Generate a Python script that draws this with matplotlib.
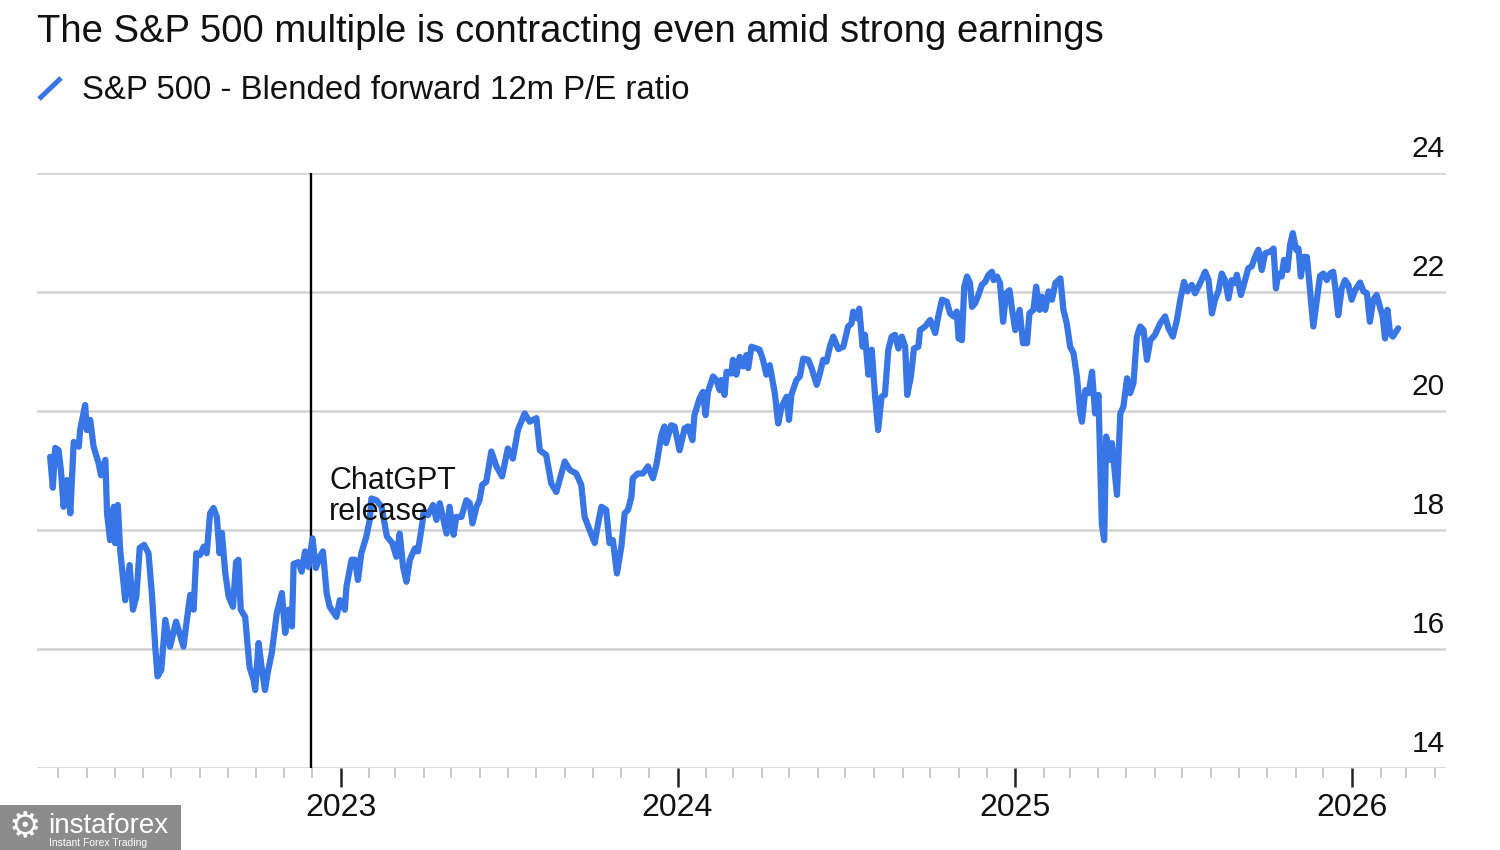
import matplotlib
matplotlib.use("Agg")
import matplotlib.pyplot as plt
import matplotlib.dates as mdates
import matplotlib.transforms as mtrans
from matplotlib.lines import Line2D
from matplotlib.patches import Rectangle
from datetime import datetime

plt.rcParams['font.family'] = ['Liberation Sans', 'DejaVu Sans']

# ---------------- data ----------------
title = "The S&P 500 multiple is contracting even amid strong earnings"
series_name = "S&P 500 - Blended forward 12m P/E ratio"
annotation_text = "ChatGPT\nrelease"
annotation_date = datetime(2022, 11, 30)
y_ticks = [14, 16, 18, 20, 22, 24]

# decimal years
t = [
    2022.137, 2022.145, 2022.152, 2022.162, 2022.169, 2022.177, 2022.187, 2022.197, 2022.207, 2022.222,
    2022.226, 2022.241, 2022.246, 2022.256, 2022.266, 2022.281, 2022.288, 2022.301, 2022.306, 2022.315,
    2022.326, 2022.330, 2022.338, 2022.345, 2022.360, 2022.373, 2022.383, 2022.393, 2022.403, 2022.416,
    2022.429, 2022.439, 2022.449, 2022.456, 2022.467, 2022.479, 2022.493, 2022.511, 2022.521, 2022.533,
    2022.543, 2022.553, 2022.563, 2022.571, 2022.582, 2022.593, 2022.602, 2022.612, 2022.622, 2022.632,
    2022.640, 2022.647, 2022.657, 2022.667, 2022.680, 2022.689, 2022.696, 2022.703, 2022.716, 2022.729,
    2022.741, 2022.746, 2022.756, 2022.766, 2022.775, 2022.783, 2022.795, 2022.810, 2022.825, 2022.835,
    2022.845, 2022.855, 2022.860, 2022.874, 2022.884, 2022.894, 2022.904, 2022.916, 2022.926, 2022.938,
    2022.947, 2022.958, 2022.967, 2022.987, 2022.997, 2023.012, 2023.017, 2023.032, 2023.042, 2023.051,
    2023.061, 2023.076, 2023.086, 2023.091, 2023.106, 2023.121, 2023.137, 2023.153, 2023.165, 2023.175,
    2023.185, 2023.195, 2023.205, 2023.220, 2023.229, 2023.242, 2023.246, 2023.259, 2023.274, 2023.284,
    2023.294, 2023.314, 2023.323, 2023.335, 2023.343, 2023.358, 2023.373, 2023.383, 2023.391, 2023.403,
    2023.412, 2023.420, 2023.432, 2023.447, 2023.462, 2023.479, 2023.496, 2023.511, 2023.526, 2023.546,
    2023.561, 2023.581, 2023.591, 2023.610, 2023.625, 2023.640, 2023.665, 2023.680, 2023.699, 2023.714,
    2023.724, 2023.739, 2023.754, 2023.764, 2023.774, 2023.788, 2023.798, 2023.808, 2023.820, 2023.833,
    2023.843, 2023.853, 2023.863, 2023.867, 2023.882, 2023.897, 2023.912, 2023.927, 2023.937, 2023.952,
    2023.961, 2023.966, 2023.981, 2023.991, 2024.006, 2024.021, 2024.031, 2024.044, 2024.050, 2024.065,
    2024.075, 2024.083, 2024.090, 2024.105, 2024.115, 2024.125, 2024.130, 2024.139, 2024.145, 2024.159,
    2024.164, 2024.174, 2024.184, 2024.194, 2024.204, 2024.209, 2024.219, 2024.234, 2024.243, 2024.253,
    2024.263, 2024.273, 2024.288, 2024.298, 2024.308, 2024.323, 2024.330, 2024.337, 2024.352, 2024.362,
    2024.372, 2024.387, 2024.397, 2024.412, 2024.421, 2024.431, 2024.441, 2024.451, 2024.461, 2024.476,
    2024.491, 2024.505, 2024.515, 2024.520, 2024.530, 2024.538, 2024.548, 2024.555, 2024.565, 2024.575,
    2024.585, 2024.594, 2024.604, 2024.614, 2024.624, 2024.634, 2024.644, 2024.654, 2024.664, 2024.674,
    2024.680, 2024.691, 2024.700, 2024.713, 2024.718, 2024.733, 2024.748, 2024.763, 2024.772, 2024.783,
    2024.797, 2024.807, 2024.817, 2024.827, 2024.832, 2024.842, 2024.849, 2024.857, 2024.866, 2024.872,
    2024.881, 2024.891, 2024.901, 2024.911, 2024.921, 2024.931, 2024.936, 2024.946, 2024.955, 2024.964,
    2024.973, 2024.983, 2024.990, 2025.000, 2025.013, 2025.023, 2025.035, 2025.042, 2025.054, 2025.062,
    2025.072, 2025.079, 2025.089, 2025.099, 2025.109, 2025.119, 2025.134, 2025.143, 2025.153, 2025.163,
    2025.173, 2025.183, 2025.193, 2025.198, 2025.208, 2025.218, 2025.228, 2025.237, 2025.247, 2025.257,
    2025.264, 2025.270, 2025.280, 2025.287, 2025.302, 2025.312, 2025.321, 2025.332, 2025.341, 2025.351,
    2025.361, 2025.371, 2025.381, 2025.391, 2025.401, 2025.415, 2025.430, 2025.445, 2025.455, 2025.468,
    2025.480, 2025.490, 2025.501, 2025.511, 2025.524, 2025.534, 2025.549, 2025.564, 2025.574, 2025.584,
    2025.593, 2025.603, 2025.613, 2025.623, 2025.633, 2025.643, 2025.653, 2025.658, 2025.670, 2025.680,
    2025.692, 2025.702, 2025.712, 2025.722, 2025.732, 2025.742, 2025.757, 2025.767, 2025.774, 2025.781,
    2025.791, 2025.798, 2025.808, 2025.816, 2025.824, 2025.834, 2025.841, 2025.848, 2025.856, 2025.866,
    2025.873, 2025.885, 2025.895, 2025.905, 2025.915, 2025.925, 2025.935, 2025.944, 2025.950, 2025.959,
    2025.969, 2025.979, 2025.989, 2025.999, 2026.009, 2026.024, 2026.034, 2026.044, 2026.053, 2026.063,
    2026.073, 2026.083, 2026.091, 2026.098, 2026.105, 2026.113, 2026.121, 2026.128, 2026.137,
]

pe = [
    19.23, 18.71, 19.38, 19.34, 19.01, 18.39, 18.84, 18.28, 19.48, 19.40,
    19.68, 20.10, 19.68, 19.85, 19.40, 19.12, 18.92, 19.18, 18.28, 17.83,
    18.39, 17.78, 18.42, 17.66, 16.82, 17.41, 16.66, 16.88, 17.70, 17.75,
    17.61, 16.94, 16.04, 15.54, 15.65, 16.49, 16.04, 16.46, 16.27, 16.04,
    16.49, 16.91, 16.66, 17.61, 17.58, 17.72, 17.61, 18.28, 18.37, 18.22,
    17.61, 17.95, 17.28, 16.88, 16.71, 17.46, 17.50, 16.66, 16.54, 15.70,
    15.48, 15.31, 16.10, 15.65, 15.31, 15.60, 15.93, 16.60, 16.94, 16.27,
    16.66, 16.38, 17.43, 17.46, 17.30, 17.64, 17.38, 17.86, 17.36, 17.55,
    17.64, 16.94, 16.71, 16.54, 16.82, 16.66, 17.05, 17.50, 17.50, 17.16,
    17.61, 17.89, 18.17, 18.53, 18.50, 18.39, 17.89, 17.78, 17.55, 17.94,
    17.38, 17.13, 17.50, 17.69, 17.64, 18.11, 18.31, 18.25, 18.42, 18.17,
    18.45, 17.94, 18.39, 17.92, 18.22, 18.22, 18.50, 18.45, 18.11, 18.39,
    18.50, 18.76, 18.81, 19.32, 19.07, 18.90, 19.37, 19.20, 19.68, 19.96,
    19.82, 19.88, 19.34, 19.26, 18.78, 18.64, 19.15, 19.01, 18.95, 18.76,
    18.22, 18.00, 17.78, 18.11, 18.39, 18.34, 17.78, 17.83, 17.27, 17.72,
    18.28, 18.34, 18.56, 18.87, 18.95, 18.95, 19.07, 18.87, 19.09, 19.60,
    19.74, 19.46, 19.76, 19.74, 19.34, 19.71, 19.74, 19.51, 19.93, 20.21,
    20.32, 19.93, 20.32, 20.58, 20.52, 20.35, 20.52, 20.27, 20.66, 20.63,
    20.86, 20.61, 20.91, 20.75, 20.94, 20.72, 21.08, 21.05, 21.03, 20.86,
    20.61, 20.77, 20.30, 19.79, 20.07, 20.24, 19.85, 20.27, 20.52, 20.58,
    20.88, 20.86, 20.72, 20.44, 20.62, 20.86, 20.83, 21.08, 21.25, 21.04,
    21.08, 21.42, 21.47, 21.67, 21.56, 21.72, 21.08, 21.28, 20.61, 21.03,
    20.24, 19.68, 20.24, 20.27, 21.03, 21.25, 21.28, 21.05, 21.25, 21.08,
    20.27, 20.58, 21.05, 21.08, 21.36, 21.42, 21.53, 21.31, 21.59, 21.87,
    21.84, 21.64, 21.59, 21.67, 21.22, 21.19, 22.09, 22.26, 22.15, 21.75,
    21.81, 21.95, 22.12, 22.17, 22.29, 22.34, 22.20, 22.26, 22.15, 21.50,
    21.98, 22.03, 21.73, 21.36, 21.70, 21.14, 21.14, 21.64, 21.70, 22.09,
    21.70, 21.92, 21.70, 22.01, 21.87, 22.15, 22.23, 21.70, 21.47, 21.08,
    20.97, 20.58, 19.96, 19.82, 20.35, 20.30, 20.66, 19.96, 20.27, 18.11,
    17.83, 19.57, 19.18, 19.46, 18.59, 19.96, 20.07, 20.55, 20.30, 20.47,
    21.25, 21.42, 21.36, 20.86, 21.19, 21.28, 21.47, 21.59, 21.39, 21.25,
    21.53, 21.87, 22.17, 22.01, 22.12, 21.98, 22.15, 22.34, 22.20, 21.64,
    21.87, 22.01, 22.31, 22.20, 21.89, 22.20, 22.15, 22.29, 21.95, 22.15,
    22.40, 22.43, 22.59, 22.71, 22.37, 22.65, 22.68, 22.73, 22.06, 22.31,
    22.26, 22.54, 22.37, 22.79, 22.99, 22.71, 22.73, 22.26, 22.59, 22.59,
    22.17, 21.42, 21.85, 22.27, 22.31, 22.20, 22.31, 22.34, 22.09, 21.61,
    22.05, 22.20, 22.12, 21.87, 22.03, 22.16, 22.01, 21.98, 21.50, 21.87,
    21.95, 21.75, 21.59, 21.22, 21.70, 21.31, 21.25, 21.31, 21.39,
]


def dec2dt(y):
    yr = int(y)
    start = datetime(yr, 1, 1)
    end = datetime(yr + 1, 1, 1)
    return start + (end - start) * (y - yr)


dates = [dec2dt(v) for v in t]

BLUE = "#3876E6"
GRID = "#d2d2d2"
W, H = 1500, 850

fig = plt.figure(figsize=(15, 8.5), dpi=100)
fig.patch.set_facecolor("white")

ax = fig.add_axes([37 / W, 1 - 768 / H, (1446 - 37) / W, (768 - 173) / H])
ax.set_facecolor("white")

ax.plot(dates, pe, color=BLUE, lw=4.5, solid_joinstyle="round", solid_capstyle="round", zorder=3)
ax.axvline(annotation_date, color="black", lw=1.7, zorder=2)

ax.set_ylim(14, 24)
ax.set_xlim(dec2dt(2022.098), dec2dt(2026.279))

ax.set_yticks(y_ticks)
ax.yaxis.grid(True, color=GRID, lw=1.8)
ax.set_axisbelow(True)
ax.tick_params(axis="y", which="both", left=False, right=False, labelleft=False, labelright=False)

for s in ax.spines.values():
    s.set_visible(False)

ax.xaxis.set_major_locator(mdates.YearLocator())
ax.xaxis.set_major_formatter(mdates.DateFormatter("%Y"))
ax.xaxis.set_minor_locator(mdates.MonthLocator())
ax.tick_params(axis="x", which="major", length=14, width=1.8, color="#222222",
               pad=4, labelsize=23, labelcolor="#111111")
ax.tick_params(axis="x", which="minor", length=7, width=1.3, color="#c4c4c4")

# y labels, right-aligned, sitting above the gridlines
lab_tr = mtrans.offset_copy(ax.get_yaxis_transform(), fig=fig, x=-1, y=16, units="dots")
for v in y_ticks:
    ax.text(1.0, v, str(v), transform=lab_tr, ha="right", va="baseline",
            fontsize=21.5, color="#111111", clip_on=False)

# annotation
ann_tr = mtrans.offset_copy(ax.transData, fig=fig, x=18, y=0, units="dots")
ax.text(annotation_date, 19.08, annotation_text, transform=ann_tr, ha="left", va="top",
        fontsize=22, color="#111111", linespacing=1.05, zorder=4)

# title and legend
fig.text(37 / W, 1 - 42 / H, title, fontsize=27.5, color="#111111", va="baseline", ha="left")
fig.add_artist(Line2D([39 / W, 61 / W], [1 - 99 / H, 1 - 78 / H], color=BLUE, lw=3.6,
                      solid_capstyle="butt", transform=fig.transFigure))
fig.text(82 / W, 1 - 99 / H, series_name, fontsize=23.8, color="#111111", va="baseline", ha="left")

# watermark
fig.add_artist(Rectangle((0, 0), 181 / W, 45 / H, transform=fig.transFigure,
                         facecolor="#8c8c8c", edgecolor="none", zorder=5))
fig.text(25 / W, 1 - 826 / H, "\u2699", fontsize=26, color="white", ha="center", va="center",
         family=["DejaVu Sans"], zorder=6)
fig.text(48 / W, 1 - 833 / H, "instaforex", fontsize=20, color="white", ha="left", va="baseline", zorder=6)
fig.text(49 / W, 1 - 846 / H, "Instant Forex Trading", fontsize=7.5, color="white", ha="left",
         va="baseline", zorder=6)

fig.savefig("out.png", dpi=100, facecolor="white")
